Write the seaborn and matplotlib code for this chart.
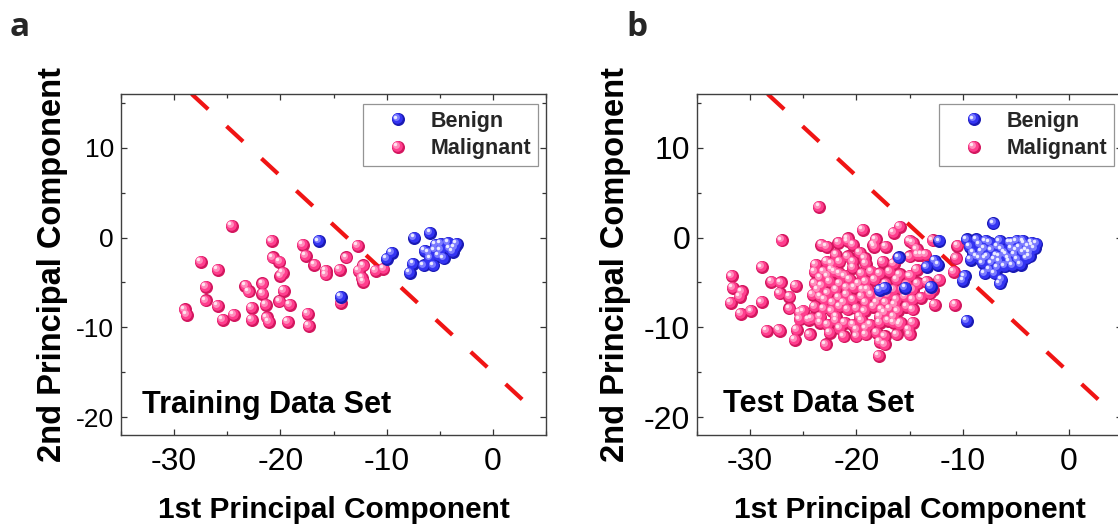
import matplotlib
matplotlib.use("Agg")
import matplotlib.pyplot as plt
import matplotlib.transforms as mtransforms
from matplotlib.lines import Line2D
from matplotlib.legend_handler import HandlerBase
from matplotlib.ticker import MultipleLocator
import pandas as pd
import seaborn as sns

# ---------------- PCA scores ----------------
# Training set
train_benign_pc1 = [-16.4, -14.3, -10.0, -9.5, -7.4, -5.9, -7.8, -7.5, -6.5, -5.6,
                    -6.4, -5.5, -4.9, -4.2, -3.4, -5.1, -4.6, -3.8, -4.9, -4.1,
                    -5.9, -5.4, -3.6, -6.0]
train_benign_pc2 = [-0.4, -6.6, -2.4, -1.7, 0.0, 0.5, -3.9, -2.9, -3.1, -3.1,
                    -1.5, -1.4, -0.7, -0.6, -0.7, -2.0, -2.3, -1.6, -1.4, -1.2,
                    -2.3, -0.8, -1.1, -1.7]
train_malig_pc1 = [-24.6, -27.5, -25.9, -27.0, -27.0, -25.9, -29.0, -28.8, -25.4, -24.4,
                   -23.3, -23.0, -21.7, -21.7, -22.7, -22.7, -21.4, -21.3, -21.1, -20.8,
                   -20.7, -20.1, -19.8, -20.0, -19.7, -20.1, -19.1, -19.3, -17.9, -17.6,
                   -16.8, -15.7, -15.7, -17.4, -17.3, -14.4, -13.8, -14.3, -12.7, -12.2,
                   -12.6, -12.3, -12.2, -11.0, -10.3]
train_malig_pc2 = [1.3, -2.7, -3.6, -5.5, -7.0, -7.6, -8.0, -8.6, -9.2, -8.6,
                   -5.4, -6.0, -5.1, -6.3, -7.8, -9.2, -7.5, -8.9, -9.4, -0.4,
                   -2.2, -2.7, -3.9, -4.3, -5.9, -7.1, -7.5, -9.4, -0.8, -2.0,
                   -3.0, -3.7, -4.1, -8.5, -9.8, -3.6, -2.2, -7.3, -0.9, -3.1,
                   -3.7, -4.5, -4.9, -3.7, -3.5]

# Test set
test_benign_pc1 = [-7.1, -12.2, -9.6, -8.7, -7.8, -16.0, -12.6, -13.4, -12.3, -17.8,
                   -17.3, -15.4, -13.0, -9.8, -9.95, -9.6, -7.9, -6.5, -6.35, -7.0,
                   -9.3, -8.4, -7.45, -6.5, -5.6, -4.9, -4.3, -3.5, -3.05, -9.0,
                   -8.2, -7.3, -6.35, -5.4, -4.6, -3.8, -3.2, -9.2, -8.4, -7.6,
                   -6.8, -5.9, -5.1, -4.3, -3.7, -8.1, -7.3, -6.5, -5.6, -4.8,
                   -4.0, -7.45, -6.7, -6.0, -5.25, -4.5, -7.0, -5.7, -4.9, -4.0,
                   -6.7, -7.9, -8.7, -3.4, -3.7, -5.25, -6.0, -7.8, -6.5, -4.15]
test_benign_pc2 = [1.6, -0.4, -0.2, -0.2, -0.4, -2.2, -2.6, -3.3, -3.0, -5.8,
                   -5.6, -5.6, -5.5, -4.3, -4.8, -9.3, -4.0, -5.1, -4.7, -4.0,
                   -1.0, -0.8, -0.6, -0.4, -0.55, -0.4, -0.4, -0.6, -0.7, -1.7,
                   -1.55, -1.4, -1.3, -1.2, -1.1, -1.0, -1.2, -2.5, -2.3, -2.1,
                   -2.0, -1.9, -1.9, -1.7, -1.7, -2.85, -2.85, -2.7, -2.7, -2.5,
                   -2.3, -3.6, -3.4, -3.2, -3.15, -3.0, -2.5, -2.3, -1.4, -1.4,
                   -1.0, -1.2, -2.1, -0.9, -2.1, -0.6, -1.7, -2.3, -2.1, -0.7]
test_malig_pc1 = [
    -23.5, -27.0, -23.3, -28.9, -31.7, -31.6, -30.8, -31.0, -31.8, -30.9,
    -29.9, -28.9, -28.4, -27.3, -27.2, -28.0, -27.1, -27.2, -26.3, -25.7,
    -26.3, -25.8, -25.6, -25.0, -24.5, -24.4, -22.9, -17.9, -17.3, -19.4,
    -20.8, -20.8, -18.2, -16.5, -15.9, -15.0, -14.3, -13.5, -12.8, -10.5,
    -10.6, -10.8, -10.7, -12.6, -13.9, -12.2, -12.8, -14.9, -14.7, -15.0,
    -15.1, -15.9, -16.5,
    -22.8, -21.7, -20.3, -18.4, -17.2, -14.7, -14.2,
    -21.9, -20.8, -19.7, -19.2, -18.3, -17.5, -16.5, -16.1, -15.0, -13.9,
    -22.8, -23.8, -22.3, -21.6, -20.3, -19.1,
    -23.9, -23.1, -22.3, -21.6, -20.3, -19.5, -18.6, -17.8, -16.9, -15.9,
    -15.0, -14.3, -13.4, -23.4, -22.7,
    -23.9, -23.3, -22.5, -21.6, -20.6, -19.8, -19.1, -18.3, -17.2, -16.2,
    -15.3, -14.2, -13.4, -21.9, -20.9, -19.4, -17.5, -16.5,
    -24.1, -23.4, -22.7, -21.7, -20.9, -20.3, -19.5, -18.6, -17.8, -17.0,
    -16.2, -15.4, -14.7, -13.1, -22.2, -21.2, -19.1, -17.2,
    -23.9, -23.1, -22.3, -21.6, -20.8, -20.0, -19.2, -18.4, -17.6, -16.9,
    -16.1, -15.3, -25.3, -23.4, -21.9, -19.7, -17.8, -16.5,
    -25.3, -24.2, -23.4, -22.7, -21.9, -21.1, -20.3, -19.5, -18.7, -17.8,
    -17.0, -15.8, -21.6, -20.0, -19.1,
    -22.5, -21.2, -20.0, -19.1, -18.1, -17.3, -17.8, -16.2,
    -23.6, -23.0, -22.0, -21.1, -20.2, -18.9, -18.1, -17.3, -16.4, -15.6,
    -14.7, -14.7]
test_malig_pc2 = [
    3.4, -0.3, -0.8, -3.3, -4.3, -5.6, -6.0, -6.6, -7.3, -8.5,
    -8.2, -7.2, -10.4, -10.3, -10.4, -4.9, -5.0, -6.2, -6.6, -5.4,
    -7.9, -11.4, -10.3, -8.2, -9.2, -10.8, -11.9, -13.2, -11.9, 0.9,
    -0.1, -0.4, -0.2, 0.5, 1.2, -0.4, -1.3, -1.9, -0.3, -0.9,
    -2.3, -3.8, -7.5, -7.5, -6.7, -4.7, -5.8, -4.3, -9.5, -10.8,
    -10.3, -9.7, -9.5,
    -1.0, -0.6, -0.8, -0.8, -1.0, -0.6, -1.9,
    -1.9, -2.1, -1.7, -2.3, -1.0, -2.7, -2.9, -2.3, -2.1, -1.9,
    -2.7, -3.0, -2.9, -2.7, -2.7, -2.9,
    -3.8, -3.8, -3.6, -4.0, -3.4, -4.0, -3.8, -4.0, -3.8, -4.1,
    -4.3, -3.6, -3.2, -4.5, -4.3,
    -5.1, -5.4, -4.9, -5.1, -4.7, -5.1, -4.9, -4.7, -5.1, -4.7,
    -5.3, -5.1, -4.9, -5.8, -5.6, -5.8, -5.6, -5.8,
    -6.4, -6.6, -6.2, -6.7, -6.4, -6.9, -6.6, -6.4, -6.7, -6.4,
    -6.9, -6.6, -6.9, -6.2, -7.3, -7.3, -7.3, -7.3,
    -7.7, -7.9, -8.2, -7.7, -8.0, -7.9, -8.2, -7.7, -8.0, -7.9,
    -8.2, -7.7, -8.4, -8.8, -8.8, -8.8, -8.8, -8.8,
    -9.1, -9.0, -9.5, -9.7, -9.3, -9.5, -9.7, -9.3, -9.7, -9.5,
    -9.3, -9.5, -10.1, -10.3, -10.1,
    -10.6, -11.0, -11.0, -10.8, -10.6, -11.0, -11.6, -10.8,
    -5.8, -6.9, -3.8, -4.3, -5.6, -5.8, -7.3, -8.4, -7.5, -5.8,
    -5.8, -8.0]

# Linear decision boundary (two end points in PC space)
boundary_pc1 = [-28.35, 3.0]
boundary_pc2 = [16.0, -18.3]

classes = ["Benign", "Malignant"]
panel_letters = ["a", "b"]
panel_titles = ["Training Data Set", "Test Data Set"]
x_label = "1st Principal Component"
y_label = "2nd Principal Component"

# ---------------- styling ----------------
SHADES = {  # rim, body, light, specular
    "Benign": ["#1a1ab4", "#3434f2", "#7c7cff", "#ececff"],
    "Malignant": ["#d3175f", "#ff3e8e", "#ff8cbc", "#ffe6f0"],
}
BALL = 88.0
LAYERS = [(0.66, -0.5, 0.5), (0.28, -1.3, 1.3), (0.07, -1.9, 1.9)]
CLASS_Z = {"Malignant": 3, "Benign": 8}

sns.set_theme(style="white")
plt.rcParams["font.family"] = ["Liberation Sans", "DejaVu Sans"]
plt.rcParams["axes.unicode_minus"] = False

fig = plt.figure(figsize=(11.18, 5.25), dpi=100)
W, H = 1118.0, 525.0
ax_boxes = [(121, 94, 546, 435), (697, 94, 1122, 435)]
axes = [fig.add_axes([l / W, 1 - b / H, (r - l) / W, (b - t) / H]) for (l, t, r, b) in ax_boxes]


def draw_balls(ax, df, cls):
    """Shaded spheres: a dark rim disc plus lighter discs shifted up-left."""
    sub = df[df["cls"] == cls]
    z0 = CLASS_Z[cls]
    sns.scatterplot(data=sub, x="pc1", y="pc2", color=SHADES[cls][0], s=BALL,
                    linewidth=0, legend=False, ax=ax, zorder=z0)
    for k, (scale, dx, dy) in enumerate(LAYERS, start=1):
        tr = mtransforms.offset_copy(ax.transData, fig=fig, x=dx, y=dy, units="points")
        sns.scatterplot(data=sub, x="pc1", y="pc2", color=SHADES[cls][k], s=BALL * scale,
                        linewidth=0, legend=False, ax=ax, transform=tr, zorder=z0 + k)


class HandlerBall(HandlerBase):
    def __init__(self, cls):
        super().__init__()
        self.cls = cls

    def create_artists(self, legend, orig_handle, xdescent, ydescent, width, height,
                       fontsize, trans):
        cx = 0.5 * width - xdescent
        cy = 0.5 * height - ydescent
        arts = [Line2D([cx], [cy], marker="o", linestyle="", markersize=BALL ** 0.5,
                       markerfacecolor=SHADES[self.cls][0], markeredgewidth=0,
                       transform=trans)]
        for k, (scale, dx, dy) in enumerate(LAYERS, start=1):
            arts.append(Line2D([cx + dx], [cy + dy], marker="o", linestyle="",
                               markersize=(BALL * scale) ** 0.5,
                               markerfacecolor=SHADES[self.cls][k], markeredgewidth=0,
                               transform=trans))
        return arts


sets = [
    (train_benign_pc1, train_benign_pc2, train_malig_pc1, train_malig_pc2),
    (test_benign_pc1, test_benign_pc2, test_malig_pc1, test_malig_pc2),
]
ytick_sizes = [19, 23]
ylabel_x = [-0.125, -0.155]
title_pos = [(0.049, 0.064), (0.062, 0.068)]
letter_x = [10, 626]

for i, ax in enumerate(axes):
    b1, b2, m1, m2 = sets[i]
    df = pd.concat([
        pd.DataFrame({"pc1": m1, "pc2": m2, "cls": "Malignant"}),
        pd.DataFrame({"pc1": b1, "pc2": b2, "cls": "Benign"}),
    ], ignore_index=True)

    sns.lineplot(x=boundary_pc1, y=boundary_pc2, ax=ax, color="#f01414", linewidth=3.0,
                 dashes=False, zorder=2, sort=False)
    ax.lines[-1].set_dashes([5.4, 6.0])
    ax.lines[-1].set_dash_capstyle("butt")

    for cls in ["Malignant", "Benign"]:
        draw_balls(ax, df, cls)

    ax.set_xlim(-35, 5)
    ax.set_ylim(-22, 16)
    ax.xaxis.set_major_locator(MultipleLocator(10))
    ax.xaxis.set_minor_locator(MultipleLocator(5))
    ax.yaxis.set_major_locator(MultipleLocator(10))
    ax.yaxis.set_minor_locator(MultipleLocator(5))
    ax.tick_params(which="both", direction="in", top=True, right=True, bottom=True,
                   left=True, width=0.9, color="#333333")
    ax.tick_params(which="major", length=4.5)
    ax.tick_params(which="minor", length=3.0)
    ax.tick_params(axis="x", which="major", labelsize=23, pad=9, labelcolor="black")
    ax.tick_params(axis="y", which="major", labelsize=ytick_sizes[i], pad=5,
                   labelcolor="black")
    for sp in ax.spines.values():
        sp.set_visible(True)
        sp.set_color("#404040")
        sp.set_linewidth(1.0)

    ax.set_xlabel(x_label, fontsize=21.5, fontweight="bold", color="black")
    ax.set_ylabel(y_label, fontsize=23.5, fontweight="bold", color="black")
    ax.xaxis.set_label_coords(0.5, -0.178)
    ax.yaxis.set_label_coords(ylabel_x[i], 0.5)

    ax.text(title_pos[i][0], title_pos[i][1], panel_titles[i], transform=ax.transAxes,
            fontsize=22, fontweight="bold", va="baseline", ha="left", color="black",
            zorder=20)

    handles = [Line2D([], [], label=c) for c in classes]
    leg = ax.legend(handles=handles, labels=classes,
                    handler_map={h: HandlerBall(c) for h, c in zip(handles, classes)},
                    loc="upper right", bbox_to_anchor=(0.98, 0.97), borderaxespad=0,
                    prop={"size": 15.5, "weight": "bold"}, frameon=True, fancybox=False,
                    borderpad=0.3, handlelength=2.7, handletextpad=0.15,
                    labelspacing=0.3)
    leg.get_frame().set_edgecolor("#7a7a7a")
    leg.get_frame().set_linewidth(0.9)
    leg.set_zorder(30)

    fig.text(letter_x[i] / W, 1 - 36 / H, panel_letters[i], fontsize=24, fontweight="bold",
             family=["Open Sans", "DejaVu Sans"], va="baseline", ha="left")

fig.savefig("out.png", dpi=100)
